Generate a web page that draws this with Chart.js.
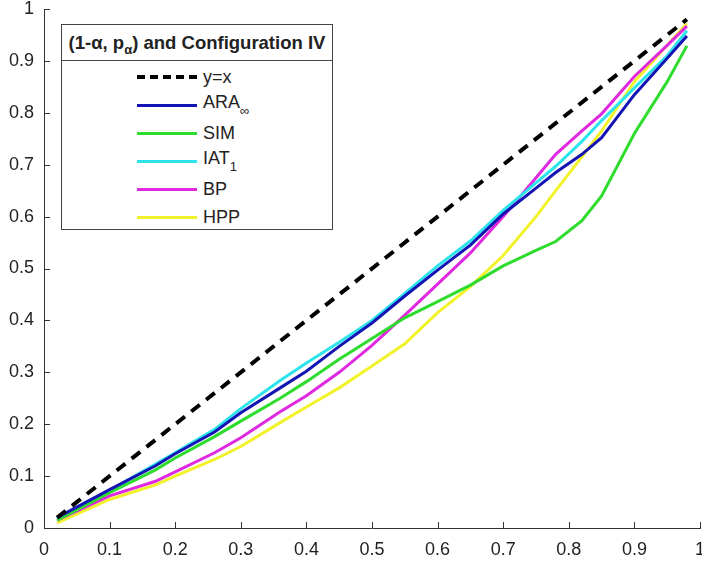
<!DOCTYPE html>
<html>
<head>
<meta charset="utf-8">
<script src="https://cdn.jsdelivr.net/npm/chart.js@4.4.0/dist/chart.umd.min.js"></script>
<style>
  html, body { margin: 0; padding: 0; background: #fff; overflow: hidden; }
  #wrap { position: relative; width: 702px; height: 568px; }
  #legend {
    position: absolute; left: 61px; top: 24px; width: 270px; height: 204px;
    border: 1px solid #444; background: #fff;
    font-family: "Liberation Sans", Arial, sans-serif; color: #222;
  }
  #legend .ttl {
    height: 35px; line-height: 35px; border-bottom: 1px solid #444;
    font-weight: bold; font-size: 18.5px; text-align: center; white-space: nowrap;
  }
  #legend .ttl sub { font-size: 13px; vertical-align: -5px; }
  #legend .rows { padding-top: 2px; }
  #legend .row { height: 28px; display: flex; align-items: center; font-size: 18px; }
  #legend .swatch { margin-left: 75px; width: 60px; height: 0; margin-right: 6px; }
  #legend .row sub { font-size: 13px; vertical-align: -7px; }
</style>
</head>
<body>
<div id="wrap">
  <canvas id="chart" width="702" height="568"></canvas>
  <div id="legend">
    <div class="ttl">(1-&alpha;, p<sub>&alpha;</sub>) and Configuration IV</div>
    <div class="rows" id="legend-rows"></div>
  </div>
</div>
<script>
// sample points along 1-alpha
const xValues = [0.02, 0.1, 0.17, 0.2, 0.26, 0.3, 0.36, 0.4, 0.45, 0.5, 0.55,
                 0.6, 0.65, 0.7, 0.75, 0.78, 0.82, 0.85, 0.9, 0.95, 0.98];
const diagX = [0.02, 0.98];
const diagY = [0.02, 0.98];
const araValues = [0.02, 0.074, 0.12, 0.143, 0.185, 0.222, 0.27, 0.302, 0.35, 0.395, 0.447,
                   0.497, 0.545, 0.605, 0.655, 0.685, 0.72, 0.752, 0.835, 0.905, 0.948];
const simValues = [0.015, 0.068, 0.112, 0.135, 0.176, 0.206, 0.25, 0.282, 0.325, 0.365, 0.405,
                   0.436, 0.468, 0.505, 0.535, 0.552, 0.592, 0.64, 0.76, 0.86, 0.929];
const iatValues = [0.018, 0.072, 0.123, 0.145, 0.19, 0.23, 0.284, 0.318, 0.358, 0.4, 0.452,
                   0.505, 0.553, 0.612, 0.665, 0.697, 0.745, 0.785, 0.848, 0.91, 0.958];
const bpValues  = [0.015, 0.062, 0.09, 0.108, 0.145, 0.174, 0.224, 0.255, 0.3, 0.352, 0.41,
                   0.47, 0.53, 0.6, 0.675, 0.72, 0.765, 0.798, 0.87, 0.93, 0.967];
const hppValues = [0.01, 0.055, 0.083, 0.1, 0.132, 0.157, 0.203, 0.233, 0.27, 0.312, 0.355,
                   0.415, 0.465, 0.525, 0.6, 0.65, 0.715, 0.765, 0.86, 0.93, 0.972];

const seriesNames  = ['y=x', 'ARA_∞', 'SIM', 'IAT_1', 'BP', 'HPP'];
const seriesColors = ['#000000', '#1414b4', '#2edc2e', '#2ee4ec', '#e028e0', '#f2f22a'];
const tickValues = [0, 0.1, 0.2, 0.3, 0.4, 0.5, 0.6, 0.7, 0.8, 0.9, 1];

const toPoints = (xs, ys) => xs.map((x, i) => ({ x, y: ys[i] }));
const seriesData = [
  toPoints(diagX, diagY),
  toPoints(xValues, araValues),
  toPoints(xValues, simValues),
  toPoints(xValues, iatValues),
  toPoints(xValues, bpValues),
  toPoints(xValues, hppValues)
];

// legend (html, so subscripts stay real text)
const rows = document.getElementById('legend-rows');
seriesNames.forEach((name, i) => {
  const label = name.replace(/_(.+)$/, '<sub>$1</sub>');
  const style = i === 0
    ? `border-top:4px dashed ${seriesColors[i]}`
    : `border-top:3px solid ${seriesColors[i]}`;
  rows.innerHTML += `<div class="row"><span class="swatch" style="${style}"></span><span>${label}</span></div>`;
});

const fmt = v => (v === 0 ? '0' : v === 1 ? '1' : v.toFixed(1));

const innerTicks = {
  id: 'innerTicks',
  afterDraw(chart) {
    const { ctx, chartArea: a, scales: { x, y } } = chart;
    ctx.save();
    ctx.strokeStyle = '#333';
    ctx.lineWidth = 1;
    ctx.beginPath();
    x.ticks.forEach(t => {
      const px = Math.round(x.getPixelForValue(t.value)) + 0.5;
      ctx.moveTo(px, a.bottom); ctx.lineTo(px, a.bottom - 6);
    });
    y.ticks.forEach(t => {
      const py = Math.round(y.getPixelForValue(t.value)) + 0.5;
      ctx.moveTo(a.left, py); ctx.lineTo(a.left + 6, py);
    });
    ctx.stroke();
    ctx.restore();
  }
};

const tickFont = { family: '"Liberation Sans", Arial, sans-serif', size: 18 };

new Chart(document.getElementById('chart'), {
  type: 'scatter',
  data: {
    datasets: seriesData.map((d, i) => ({
      label: seriesNames[i],
      data: d,
      showLine: true,
      borderColor: seriesColors[i],
      borderWidth: i === 0 ? 4 : 3,
      borderDash: i === 0 ? [11, 8] : [],
      pointRadius: 0,
      tension: 0
    }))
  },
  options: {
    responsive: false,
    animation: false,
    layout: { padding: { top: 9, right: 2, left: 0, bottom: 0 } },
    plugins: { legend: { display: false }, tooltip: { enabled: false } },
    scales: {
      x: {
        type: 'linear', min: 0, max: 1,
        afterBuildTicks: s => { s.ticks = tickValues.map(v => ({ value: v })); },
        afterFit: s => { s.height = 40; s.paddingLeft = 0; s.paddingRight = 0; },
        grid: { drawOnChartArea: false, drawTicks: false },
        border: { display: true, color: '#333' },
        ticks: { font: tickFont, color: '#222', padding: 11, maxRotation: 0, callback: fmt }
      },
      y: {
        type: 'linear', min: 0, max: 1,
        afterBuildTicks: s => { s.ticks = tickValues.map(v => ({ value: v })); },
        afterFit: s => { s.width = 44; s.paddingTop = 0; s.paddingBottom = 0; },
        grid: { drawOnChartArea: false, drawTicks: false },
        border: { display: true, color: '#333' },
        ticks: { font: tickFont, color: '#222', padding: 10, callback: fmt }
      }
    }
  },
  plugins: [innerTicks]
});
</script>
</body>
</html>
